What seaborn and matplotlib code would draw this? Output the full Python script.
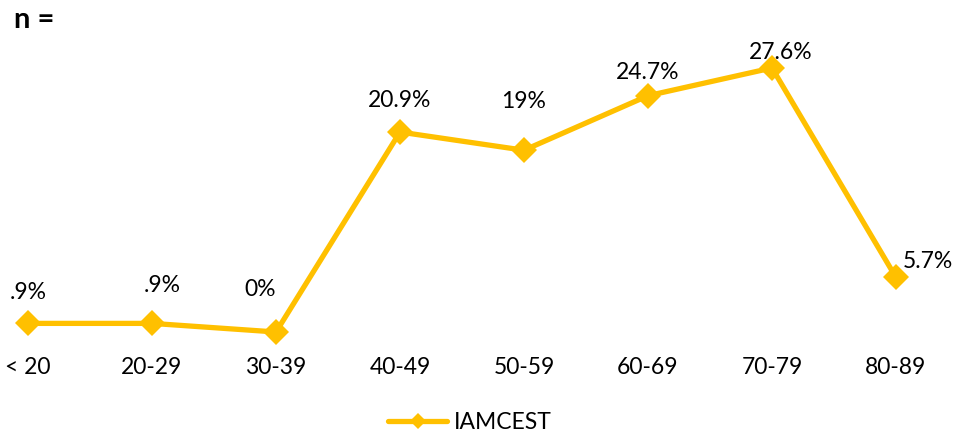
import pandas as pd
import seaborn as sns
import matplotlib.pyplot as plt

# Dane
grupy_wiekowe = ['< 20', '20-29', '30-39', '40-49', '50-59', '60-69', '70-79', '80-89']
procenty = [0.9, 0.9, 0.0, 20.9, 19.0, 24.7, 27.6, 5.7]
etykiety = ['.9%', '.9%', '0%', '20.9%', '19%', '24.7%', '27.6%', '5.7%']
seria = 'IAMCEST'

df = pd.DataFrame({'Wiek': grupy_wiekowe, 'Procent': procenty, 'Seria': seria})

sns.set_style('white')
plt.rcParams['font.family'] = ['Lato', 'DejaVu Sans']
plt.rcParams['text.color'] = 'black'
plt.rcParams['xtick.color'] = 'black'

kolor = '#FFC000'
fig = plt.figure(figsize=(9.64, 4.38), dpi=100)
ax = fig.add_axes([28 / 964, 106 / 438, 868 / 964, 287 / 438])

sns.lineplot(data=df, x='Wiek', y='Procent', hue='Seria', palette=[kolor],
             marker='D', markersize=13, linewidth=3.8, markeredgewidth=0,
             clip_on=False, ax=ax, legend=True)

# przesuniecia etykiet (piksele)
przesuniecia = [(0, 31), (10, 38), (-16, 42), (0, 32), (0, 49), (0, 23), (9, 15), (32, 16)]
for i, (war, tekst) in enumerate(zip(procenty, etykiety)):
    dx, dy = przesuniecia[i]
    ax.annotate(tekst, (i, war), xytext=(dx, dy), textcoords='offset pixels',
                ha='center', va='center', fontsize=16.5, color='black')

ax.set_xlim(0, len(grupy_wiekowe) - 1)
ax.set_ylim(0, 30)
ax.set_yticks([])
ax.set_xlabel('')
ax.set_ylabel('')
ax.tick_params(axis='x', length=0, pad=18, labelsize=16.5, labelcolor='black')
for s in ax.spines.values():
    s.set_visible(False)

leg = ax.legend(loc='center', bbox_to_anchor=(0.5 + 8 / 868, -0.315), frameon=False,
                fontsize=16.5, handlelength=2.6, handletextpad=0.3)
for h in leg.get_lines():
    h.set_markersize(8)
    h.set_linewidth(3.8)

fig.text(14 / 964, 1 - 20 / 438, 'n =', fontsize=21, fontweight='bold', va='center', ha='left')

plt.savefig('out.png', dpi=100)
